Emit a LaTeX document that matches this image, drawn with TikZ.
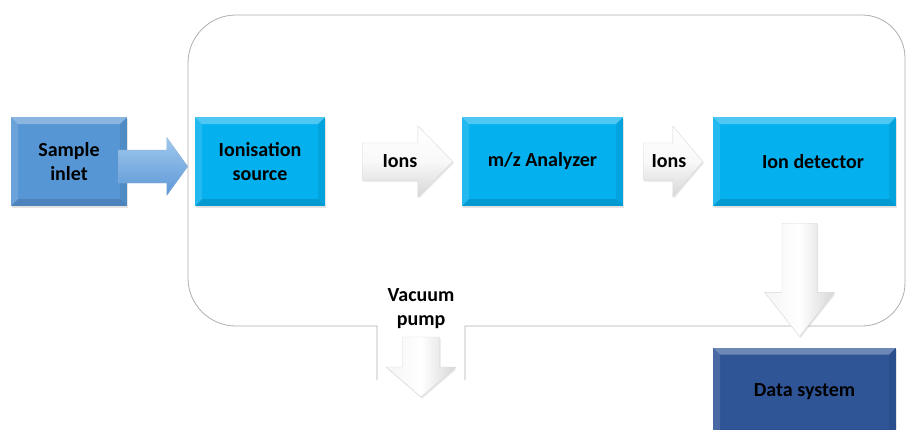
\documentclass[tikz,border=0pt]{standalone}
\usepackage{fontspec}
\setmainfont{Carlito}
\usetikzlibrary{calc,shadows}
\definecolor{inletblue}{RGB}{86,150,212}
\definecolor{cyanblue}{RGB}{4,176,238}
\definecolor{darkblue}{RGB}{47,85,151}
\definecolor{arrowblueA}{RGB}{160,200,238}
\definecolor{arrowblueB}{RGB}{92,152,214}
\definecolor{encl}{RGB}{175,175,180}
\newcommand\hblockarrow[6]{\path[#6] let \p1=#1, \p2=#2 in
  (\x1,\y1+#3) -- (\x2-#5,\y1+#3) -- (\x2-#5,\y1+#4) -- (\x2,\y1)
  -- (\x2-#5,\y1-#4) -- (\x2-#5,\y1-#3) -- (\x1,\y1-#3) -- cycle;}
\newcommand\vblockarrow[6]{\path[#6] let \p1=#1, \p2=#2 in
  (\x1-#3,\y1) -- (\x1-#3,\y2+#5) -- (\x1-#4,\y2+#5) -- (\x1,\y2)
  -- (\x1+#4,\y2+#5) -- (\x1+#3,\y2+#5) -- (\x1+#3,\y1) -- cycle;}
\tikzset{
  bevelbox/.style={rectangle, inner sep=0pt, align=center, text=black,
    font=\fontsize{20}{24}\selectfont\bfseries,
    drop shadow={opacity=0.2, shadow xshift=1pt, shadow yshift=-2pt},
    path picture={
      \fill[white,opacity=.3] (path picture bounding box.north west) -- (path picture bounding box.north east)
        -- ([shift={(-7pt,-7pt)}]path picture bounding box.north east) -- ([shift={(7pt,-7pt)}]path picture bounding box.north west) -- cycle;
      \fill[white,opacity=.12] (path picture bounding box.north west) -- (path picture bounding box.south west)
        -- ([shift={(7pt,7pt)}]path picture bounding box.south west) -- ([shift={(7pt,-7pt)}]path picture bounding box.north west) -- cycle;
      \fill[black,opacity=.07] (path picture bounding box.north east) -- (path picture bounding box.south east)
        -- ([shift={(-7pt,7pt)}]path picture bounding box.south east) -- ([shift={(-7pt,-7pt)}]path picture bounding box.north east) -- cycle;
      \fill[black,opacity=.12] (path picture bounding box.south west) -- (path picture bounding box.south east)
        -- ([shift={(-7pt,7pt)}]path picture bounding box.south east) -- ([shift={(7pt,7pt)}]path picture bounding box.south west) -- cycle;
    }},
  greyh/.style={top color=white, bottom color=gray!32, middle color=gray!5, draw=gray!30, line width=0.4pt,
    drop shadow={opacity=0.2, shadow xshift=1pt, shadow yshift=-1.5pt}},
  greyv/.style={left color=gray!8, right color=gray!32, middle color=white, draw=gray!30, line width=0.4pt,
    drop shadow={opacity=0.2, shadow xshift=1pt, shadow yshift=-1.5pt}},
  bluearrow/.style={top color=arrowblueA, bottom color=arrowblueB, draw=arrowblueB!80!black!60, line width=0.3pt},
  label/.style={text=black, align=center, inner sep=0pt, font=\fontsize{20}{24}\selectfont\bfseries},
  enclline/.style={draw=encl, line width=0.8pt}
}
\begin{document}
\begin{tikzpicture}[x=1pt,y=1pt]
\clip (0,0) rectangle (907,-429);
\fill[white] (0,0) rectangle (907,-429);

% enclosure
\draw[enclline] (377,-380) -- (377,-326) -- (236,-326) arc[start angle=270,end angle=180,radius=48]
  -- (188,-63) arc[start angle=180,end angle=90,radius=48]
  -- (862,-15) arc[start angle=90,end angle=0,radius=43]
  -- (905,-283) arc[start angle=0,end angle=-90,radius=43]
  -- (465,-326) -- (465,-380);

% boxes
\node[bevelbox, fill=inletblue, minimum width=116pt, minimum height=89pt] (inlet) at (69,-161.5) {Sample\\inlet};
\node[bevelbox, fill=cyanblue, minimum width=130pt, minimum height=89pt] (ionsrc) at (260,-161.5) {Ionisation\\source};
\node[bevelbox, fill=cyanblue, minimum width=161pt, minimum height=89pt] (analyzer) at (542.5,-161.5) {m/z Analyzer};
\node[bevelbox, fill=cyanblue, minimum width=183pt, minimum height=89pt] (detector) at (804.5,-161.5) {\hspace*{17pt}Ion detector};
\node[bevelbox, fill=darkblue, minimum width=183pt, minimum height=89pt] (data) at (804.5,-392) {Data system};

% arrow coordinates
\coordinate (a1s) at ([shift={(-9pt,-5pt)}]inlet.east);
\coordinate (a1e) at ([shift={(-7pt,-5pt)}]ionsrc.west);
\coordinate (a2s) at ([xshift=37pt]ionsrc.east);
\coordinate (a2e) at ([xshift=-9pt]analyzer.west);
\coordinate (a3s) at ([xshift=20pt]analyzer.east);
\coordinate (a3e) at ([xshift=-10pt]detector.west);
\coordinate (a4s) at ([shift={(-5pt,-17pt)}]detector.south);
\coordinate (a4e) at ([shift={(-5pt,11pt)}]data.north);

% arrows
\hblockarrow{(a1s)}{(a1e)}{16.5pt}{29pt}{21pt}{bluearrow}
\hblockarrow{(a2s)}{(a2e)}{18.5pt}{35.5pt}{35pt}{greyh}
\hblockarrow{(a3s)}{(a3e)}{18.5pt}{35.5pt}{30pt}{greyh}
\vblockarrow{(a4s)}{(a4e)}{17.5pt}{35pt}{44pt}{greyv}

\node[label] (ions1) at (400,-161.5) {Ions};
\node[label] (ions2) at (669,-161.5) {Ions};

% vacuum pump
\node[label] (vac) at (421,-309) {Vacuum\\pump};
\coordinate (vs) at (421,-337);
\coordinate (ve) at (421,-397);
\vblockarrow{(vs)}{(ve)}{18.5pt}{35pt}{30pt}{greyv}
\end{tikzpicture}
\end{document}
